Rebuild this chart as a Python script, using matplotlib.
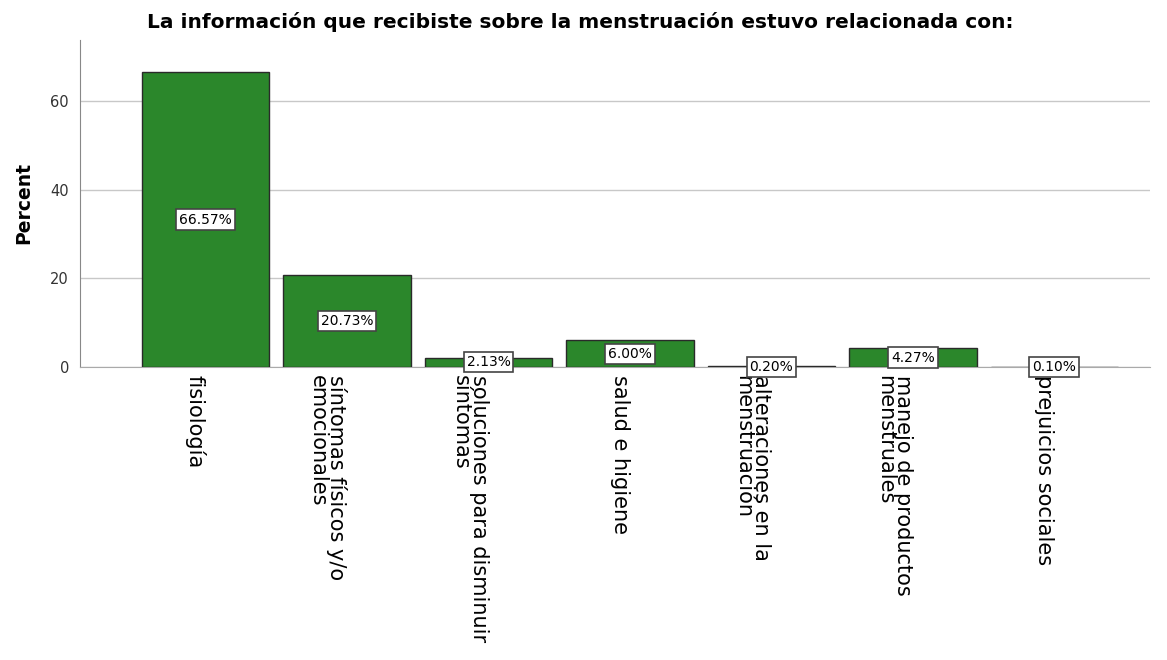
import matplotlib
matplotlib.use("Agg")
import matplotlib.pyplot as plt

categories = ["fisiología", "síntomas físicos y/o\nemocionales", "soluciones para disminuir\nsíntomas",
              "salud e higiene", "alteraciones en la\nmenstruación", "manejo de productos\nmenstruales",
              "prejuicios sociales"]
values = [66.57, 20.73, 2.13, 6.00, 0.20, 4.27, 0.10]
yticks = [0, 20, 40, 60]

plt.rcParams['font.family'] = ['DejaVu Sans']
fig = plt.figure(figsize=(11.67, 6.60), dpi=100)
ax = fig.add_axes([80/1167, 1-367/660, (1150-80)/1167, (367-40)/660])

x = list(range(len(values)))
ax.bar(x, values, width=0.9, color="#2b872b", edgecolor="#2a2a2a", linewidth=1.0, zorder=3)
ax.set_xlim(-0.887, 6.675)
ax.set_ylim(0, 73.8)
ax.set_yticks(yticks)
ax.yaxis.grid(True, color="#c8c8c8", linewidth=1, zorder=0)
ax.set_axisbelow(True)
for s in ["top", "right"]:
    ax.spines[s].set_visible(False)
ax.spines["left"].set_color("#888888")
ax.spines["bottom"].set_color("#aaaaaa")
ax.tick_params(axis="y", length=0, labelsize=10.5, labelcolor="#333333", pad=8)
ax.tick_params(axis="x", length=0, pad=6)
ax.set_xticks(x)
ax.set_xticklabels(categories, rotation=270, ha="right", va="top", fontsize=15,
                   multialignment="left", linespacing=0.88)
ax.set_ylabel("Percent", fontsize=13.5, fontweight="bold", labelpad=12)

for xi, v in zip(x, values):
    ax.text(xi, v / 2, f"{v:.2f}%", ha="center", va="center", fontsize=10, zorder=5,
            bbox=dict(boxstyle="square,pad=0.22", facecolor="white", edgecolor="#444444", linewidth=1.2))

fig.text(0.497, 0.966, "La información que recibiste sobre la menstruación estuvo relacionada con:",
         ha="center", va="center", fontsize=14.5, fontweight="bold")

fig.savefig("out.png", dpi=100)
